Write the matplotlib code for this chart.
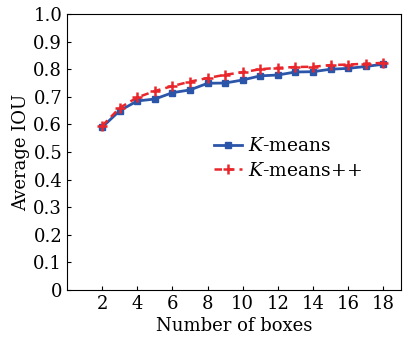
import numpy as np
import matplotlib
matplotlib.use("Agg")
import matplotlib.pyplot as plt

plt.rcParams['font.family'] = 'DejaVu Serif'
plt.rcParams['mathtext.fontset'] = 'dejavuserif'

# data
boxes = np.arange(2, 19)
iou_kmeans = [0.59, 0.65, 0.685, 0.692, 0.715, 0.725, 0.749, 0.75, 0.761,
              0.776, 0.779, 0.79, 0.791, 0.80, 0.803, 0.81, 0.818]
iou_kmeanspp = [0.595, 0.66, 0.698, 0.721, 0.739, 0.755, 0.768, 0.78, 0.789,
                0.80, 0.805, 0.808, 0.809, 0.815, 0.817, 0.82, 0.823]
xticks = np.arange(2, 19, 2)
yticks = np.arange(0, 1.01, 0.1)
ytick_labels = ['0'] + ['%.1f' % v for v in yticks[1:]]

fig = plt.figure(figsize=(4.09, 3.42), dpi=100)
ax = fig.add_axes([0.164, 0.152, 0.816, 0.807])

ax.plot(boxes, iou_kmeans, '-s', color='#2b55a9', lw=2, ms=4,
        label=r'$K$-means')
ax.plot(boxes, iou_kmeanspp, '--+', color='#e8262b', lw=1.8, ms=7, mew=1.8,
        dashes=(3, 2), label=r'$K$-means++')

ax.set_xlim(0, 19)
ax.set_ylim(0, 1.0)
ax.set_xticks(xticks)
ax.set_yticks(yticks)
ax.set_yticklabels(ytick_labels)
ax.tick_params(direction='in', labelsize=13, length=3)
ax.set_xlabel('Number of boxes', fontsize=13, labelpad=3)
ax.set_ylabel('Average IOU', fontsize=13, labelpad=2)

ax.legend(loc='center left', bbox_to_anchor=(0.44, 0.476), frameon=False,
          fontsize=13.5, handlelength=1.5, handletextpad=0.3,
          labelspacing=0.35, borderpad=0, borderaxespad=0)

fig.savefig('out.png', dpi=100)
